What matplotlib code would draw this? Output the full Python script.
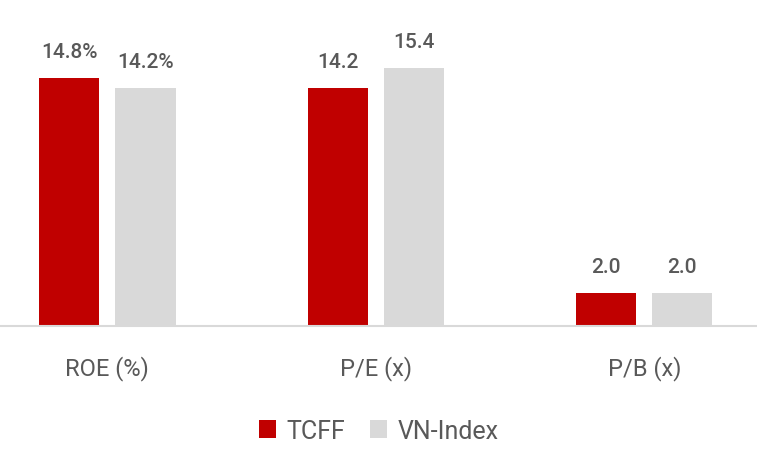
import numpy as np
import matplotlib.pyplot as plt

plt.rcParams['font.family'] = ['Roboto', 'DejaVu Sans']

categories = ["ROE (%)", "P/E (x)", "P/B (x)"]
tcff = [14.8, 14.2, 2.0]
vnindex = [14.2, 15.4, 2.0]
tcff_labels = ["14.8%", "14.2", "2.0"]
vn_labels = ["14.2%", "15.4", "2.0"]

red = "#C00000"
grey = "#D9D9D9"
txt = "#595959"

fig = plt.figure(figsize=(7.57, 4.64), dpi=100)
ax = fig.add_axes([0, 0.295, 1, 0.705])

x = np.arange(len(categories))
w = 0.224
off = 0.142
b1 = ax.bar(x - off, tcff, w, color=red, label="TCFF")
b2 = ax.bar(x + off, vnindex, w, color=grey, label="VN-Index")

for bars, labs in [(b1, tcff_labels), (b2, vn_labels)]:
    for b, lab in zip(bars, labs):
        ax.text(b.get_x() + b.get_width() / 2, b.get_height() + 1.0, lab,
                ha='center', va='bottom', fontsize=15, color=txt, fontweight='medium')

ax.set_xlim(-0.40, 2.42)
ax.set_ylim(0, 19.5)
ax.set_xticks(x)
ax.set_xticklabels(categories, fontsize=17, color=txt)
ax.tick_params(axis='x', length=0, pad=21)
ax.set_yticks([])
for s in ['top', 'right', 'left']:
    ax.spines[s].set_visible(False)
ax.spines['bottom'].set_color(grey)
ax.spines['bottom'].set_linewidth(1.5)

leg = fig.legend(loc='center', bbox_to_anchor=(0.5, 0.07), ncol=2, frameon=False,
                 fontsize=18, handlelength=0.7, handleheight=0.7,
                 handletextpad=0.4, columnspacing=1.0)
for t in leg.get_texts():
    t.set_color(txt)

fig.savefig("out.png", dpi=100)
